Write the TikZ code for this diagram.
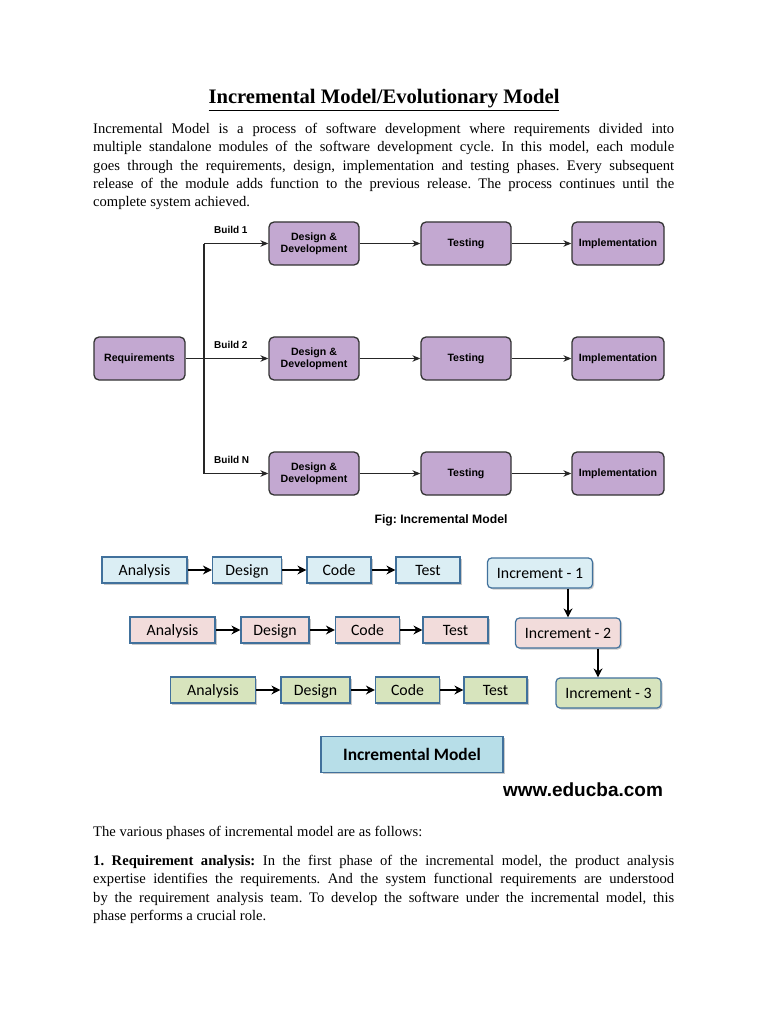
\documentclass[tikz,border=0pt]{standalone}
\usepackage{fontspec}
\setmainfont{Liberation Serif}
\newfontfamily\arialf{Liberation Sans}
\newfontfamily\calibrif{Carlito}
\usetikzlibrary{arrows.meta,shadows,calc}
\definecolor{purpfill}{HTML}{C3A8D1}
\definecolor{bluefill}{HTML}{DBEEF4}
\definecolor{pinkfill}{HTML}{F2DCDB}
\definecolor{greenfill}{HTML}{D7E4BD}
\definecolor{modelfill}{HTML}{B7DEE8}
\definecolor{bordblue}{HTML}{41719C}
\frenchspacing
\tikzset{
  pbox/.style={draw=black!80, line width=1.3pt, fill=purpfill, rounded corners=5pt,
    minimum width=90pt, minimum height=43pt, inner sep=1pt, align=center,
    font=\arialf\bfseries\fontsize{10.6}{12}\selectfont},
  parr/.style={-{Stealth[length=8pt,width=6.5pt]}, line width=1.1pt, draw=black!85},
  blabel/.style={font=\arialf\bfseries\fontsize{10}{12}\selectfont, anchor=west, inner sep=0},
  sbox/.style={draw=bordblue, line width=1.2pt, minimum height=26pt, inner sep=0,
    text height=13pt, text depth=2pt,
    font=\calibrif\fontsize{15.8}{18}\selectfont,
    drop shadow={shadow xshift=1.5pt, shadow yshift=-1.5pt, opacity=0.35, fill=black!60}},
  ibox/.style={sbox, rounded corners=4pt, minimum width=105pt, minimum height=30pt},
  barr/.style={-{Stealth[length=9pt,width=9pt]}, line width=2.2pt, draw=black},
  para/.style={anchor=north west, inner sep=0, text width=581pt, align=justify,
    font=\fontsize{14.6}{18.3}\selectfont}
}
\begin{document}
\begin{tikzpicture}[x=1pt,y=-1pt]
\useasboundingbox[fill=white] (0,0) rectangle (768,1024);

% Title and intro
\node (title) at (384,100) {\fontsize{20.6}{23}\selectfont\bfseries\underline{Incremental Model/Evolutionary Model}};
\node[para] (intro) at (93,123) {Incremental Model is a process of software development where requirements divided into\linebreak
multiple standalone modules of the software development cycle. In this model, each module\linebreak
goes through the requirements, design, implementation and testing phases. Every subsequent\linebreak
release of the module adds function to the previous release. The process continues until the\linebreak
complete system achieved.};

% Purple diagram
\node[pbox, minimum width=91pt] (req) at (139.5,358.5) {Requirements};
\node[pbox] (dd1) at (314,243.5) {Design \&\\Development};
\node[pbox] (dd2) at (314,358.5) {Design \&\\Development};
\node[pbox] (dd3) at (314,473.5) {Design \&\\Development};
\node[pbox] (t1) at (466,243.5) {Testing};
\node[pbox] (t2) at (466,358.5) {Testing};
\node[pbox] (t3) at (466,473.5) {Testing};
\node[pbox, minimum width=92pt] (i1) at (618,243.5) {Implementation};
\node[pbox, minimum width=92pt] (i2) at (618,358.5) {Implementation};
\node[pbox, minimum width=92pt] (i3) at (618,473.5) {Implementation};
\coordinate (br) at (204,358.5);
\draw[line width=1.1pt, draw=black!85] (req.east) -- (br);
\draw[line width=1.1pt, draw=black!85] (br |- dd1.west) -- (br |- dd3.west);
\draw[parr] (br |- dd1.west) -- (dd1.west);
\draw[parr] (br) -- (dd2.west);
\draw[parr] (br |- dd3.west) -- (dd3.west);
\foreach \r in {1,2,3}{
  \draw[parr] (dd\r.east) -- (t\r.west);
  \draw[parr] (t\r.east) -- (i\r.west);
}
\node[blabel] (b1) at (214,230) {Build 1};
\node[blabel] (b2) at (214,345) {Build 2};
\node[blabel] (b3) at (214,460) {Build N};
\node (fig) at (441,520) {\arialf\bfseries\fontsize{12.2}{14}\selectfont Fig: Incremental Model};

% Second diagram
\node[sbox, fill=bluefill, minimum width=85pt] (a1) at (144.5,570) {Analysis};
\node[sbox, fill=bluefill, minimum width=69pt] (d1) at (247,570) {Design};
\node[sbox, fill=bluefill, minimum width=64pt] (c1) at (339,570) {Code};
\node[sbox, fill=bluefill, minimum width=64pt] (te1) at (428,570) {Test};
\node[sbox, fill=pinkfill, minimum width=85pt] (a2) at (172.5,630) {Analysis};
\node[sbox, fill=pinkfill, minimum width=68pt] (d2) at (275,630) {Design};
\node[sbox, fill=pinkfill, minimum width=64pt] (c2) at (367.5,630) {Code};
\node[sbox, fill=pinkfill, minimum width=65pt] (te2) at (455.5,630) {Test};
\node[sbox, fill=greenfill, minimum width=85pt] (a3) at (213,690) {Analysis};
\node[sbox, fill=greenfill, minimum width=69pt] (d3) at (315.5,690) {Design};
\node[sbox, fill=greenfill, minimum width=64pt] (c3) at (407.5,690) {Code};
\node[sbox, fill=greenfill, minimum width=63pt] (te3) at (495.5,690) {Test};
\foreach \r in {1,2,3}{
  \draw[barr] (a\r.east) -- (d\r.west);
  \draw[barr] (d\r.east) -- (c\r.west);
  \draw[barr] (c\r.east) -- (te\r.west);
}
\node[ibox, fill=bluefill] (inc1) at (540,573) {Increment - 1};
\node[ibox, fill=pinkfill] (inc2) at (568,633) {Increment - 2};
\node[ibox, fill=greenfill] (inc3) at (608.5,693) {Increment - 3};
\draw[barr, line width=1.8pt] (inc1.south -| inc2.north) -- (inc2.north);
\draw[barr, line width=1.8pt] ([xshift=30pt]inc2.south) -- ([xshift=30pt]inc2.south |- inc3.north);
\node[sbox, fill=modelfill, minimum width=182pt, minimum height=36pt, text height=14pt, text depth=3pt,
  font=\calibrif\bfseries\fontsize{17.4}{20}\selectfont] (model) at (412,754.7) {Incremental Model};
\node (www) at (583,790) {\arialf\bfseries\fontsize{19}{22}\selectfont www.educba.com};

% Bottom text
\node[anchor=north west, inner sep=0, font=\fontsize{14.6}{18.3}\selectfont] (phases) at (93,826) {The various phases of incremental model are as follows:};
\node[para] (req1) at (93,855) {\textbf{1. Requirement analysis:} In the first phase of the incremental model, the product analysis\linebreak
expertise identifies the requirements. And the system functional requirements are understood\linebreak
by the requirement analysis team. To develop the software under the incremental model, this\linebreak
phase performs a crucial role.};
\end{tikzpicture}
\end{document}
